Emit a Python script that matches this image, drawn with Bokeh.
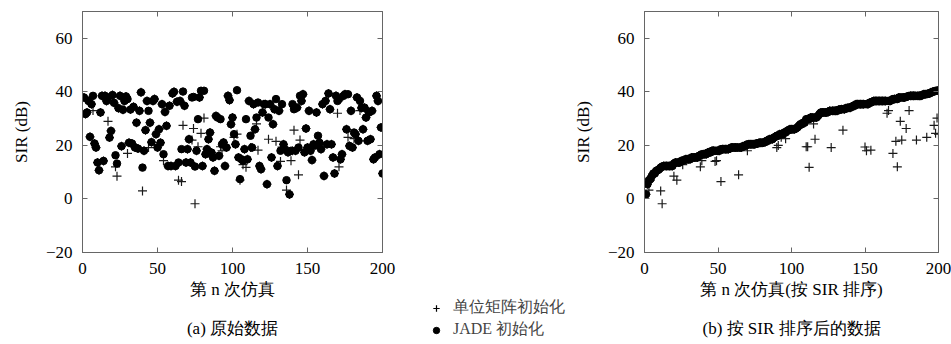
import numpy as np
from bokeh.plotting import figure
from bokeh.models import LinearAxis, Range1d, Title, Legend, LegendItem, FixedTicker, Spacer
from bokeh.layouts import row, column
from bokeh.embed import file_html
from bokeh.resources import INLINE

# ---------------- data ----------------
run_index = list(range(1, 201))

jade_sir = [
    37.9, 31.7, 32.3, 36.6, 23.2, 35.4, 38.5, 20.7, 19.2, 13.6,
    10.7, 32.3, 38.5, 14.2, 38.5, 36.6, 37.9, 22.9, 25.4, 38.8,
    35.9, 16.3, 13.2, 33.9, 38.5, 19.7, 33.3, 36.6, 38.3, 37.3,
    21.0, 33.4, 20.7, 34.4, 19.2, 28.5, 18.8, 32.9, 39.8, 11.7,
    18.0, 25.7, 36.6, 32.9, 28.5, 21.2, 36.6, 37.3, 24.2, 19.2,
    26.0, 21.0, 35.4, 16.7, 32.5, 27.3, 12.3, 34.8, 12.3, 39.4,
    40.0, 12.3, 36.3, 13.6, 36.6, 18.6, 40.1, 34.8, 13.6, 18.6,
    22.3, 13.6, 37.9, 38.1, 12.1, 18.0, 29.8, 37.9, 40.4, 12.3,
    40.4, 16.7, 18.6, 22.3, 24.8, 17.3, 15.5, 10.5, 31.0, 30.4,
    16.1, 29.8, 20.4, 21.1, 12.3, 19.2, 38.5, 36.9, 27.9, 30.4,
    24.2, 20.4, 40.6, 15.5, 7.4, 14.8, 14.3, 18.6, 29.8, 14.8,
    36.6, 23.6, 19.2, 35.4, 26.0, 30.4, 36.0, 12.3, 11.1, 32.3,
    35.4, 35.4, 5.5, 30.4, 35.4, 15.5, 27.9, 33.5, 37.3, 12.3,
    32.9, 18.0, 35.4, 20.4, 18.6, 7.0, 17.4, 1.7, 18.0, 35.4,
    33.5, 18.0, 34.1, 19.2, 38.5, 36.6, 39.1, 17.4, 26.3, 19.2,
    32.9, 18.0, 14.5, 20.4, 20.0, 32.3, 23.6, 21.0, 18.6, 35.4,
    8.6, 36.6, 20.4, 39.4, 33.5, 20.4, 15.5, 9.5, 38.5, 36.6,
    37.3, 14.8, 16.7, 38.5, 39.1, 26.0, 39.1, 19.8, 32.9, 19.2,
    24.8, 24.2, 37.9, 21.7, 36.6, 34.0, 26.0, 34.1, 30.4, 21.7,
    32.3, 22.3, 32.9, 14.8, 15.5, 38.5, 36.6, 16.7, 26.7, 9.5,
]

identity_sir = [
    37.9, 31.7, 32.3, 36.6, 23.2, 35.4, 33.0, 20.7, 19.2, 13.6,
    10.7, 32.3, 38.5, 14.2, 38.5, 36.6, 29.0, 22.9, 25.4, 38.8,
    35.9, 12.0, 8.5, 33.9, 38.5, 19.7, 33.3, 36.6, 38.3, 17.0,
    21.0, 33.4, 20.7, 34.4, 19.2, 28.5, 18.8, 32.9, 39.8, 3.0,
    18.0, 25.7, 36.6, 19.2, 28.5, 21.2, 36.6, 37.3, 24.2, 19.2,
    26.0, 21.0, 35.4, 14.3, 32.5, 27.3, 12.3, 34.8, 12.3, 39.4,
    40.0, 12.3, 36.3, 7.0, 36.6, 6.5, 27.5, 34.8, 13.6, 18.6,
    22.3, 13.6, 22.0, 26.3, -1.8, 18.0, 19.5, 37.9, 24.5, 12.3,
    30.2, 16.7, 18.6, 22.3, 24.8, 17.3, 15.5, 10.5, 31.0, 30.4,
    16.1, 19.5, 18.0, 21.1, 12.3, 19.2, 38.5, 36.9, 27.9, 30.4,
    23.0, 20.4, 24.2, 15.5, 7.0, 14.8, 12.8, 18.6, 11.8, 14.8,
    36.6, 19.2, 19.2, 35.4, 26.0, 28.0, 18.2, 12.3, 11.1, 32.3,
    35.4, 35.4, 5.5, 22.3, 35.4, 15.5, 27.9, 33.5, 21.5, 12.3,
    32.9, 14.0, 19.4, 20.4, 18.6, 3.3, 17.4, 1.7, 14.3, 18.0,
    25.7, 18.0, 34.1, 9.0, 22.0, 36.6, 39.1, 17.4, 26.3, 19.2,
    32.9, 18.0, 14.5, 20.4, 20.0, 32.3, 20.0, 21.0, 18.6, 35.4,
    8.6, 36.6, 20.4, 39.4, 33.5, 20.4, 15.5, 9.5, 38.5, 32.0,
    12.0, 14.8, 16.7, 38.5, 39.1, 26.0, 23.0, 19.8, 32.9, 19.2,
    22.5, 24.2, 37.9, 21.7, 33.0, 34.0, 26.0, 34.1, 30.4, 21.7,
    32.3, 22.3, 32.9, 14.8, 15.5, 38.5, 36.6, 16.7, 26.7, 9.5,
]

x_ticks = [0, 50, 100, 150, 200]
y_ticks = [-20, 0, 20, 40, 60]
y_tick_text = {-20: "\u221220", 0: "0", 20: "20", 40: "40", 60: "60"}

label_plus = "单位矩阵初始化"
label_dot = "JADE 初始化"
xlabel_a = "第 n 次仿真"
xlabel_b = "第 n 次仿真(按 SIR 排序)"
caption_a = "(a) 原始数据"
caption_b = "(b) 按 SIR 排序后的数据"

# sorted view (b): order runs by the JADE SIR
order = np.argsort(np.array(jade_sir), kind="stable")
jade_sorted = list(np.array(jade_sir)[order])
identity_sorted = list(np.array(identity_sir)[order])

SERIF = "Liberation Serif"
FRAME = "#666666"
H = 344


def style(ax, ticks, labels, overrides=None):
    ax.ticker = FixedTicker(ticks=ticks)
    ax.major_tick_in = 5
    ax.major_tick_out = 0
    ax.minor_tick_line_color = None
    ax.axis_line_color = FRAME
    ax.major_tick_line_color = FRAME
    if labels:
        ax.major_label_text_font = SERIF
        ax.major_label_text_font_size = "17px"
        ax.major_label_text_color = "black"
        ax.major_label_standoff = 10
        ax.axis_label_text_font = SERIF
        ax.axis_label_text_font_size = "17px"
        ax.axis_label_text_font_style = "normal"
        ax.axis_label_text_color = "black"
        if overrides:
            ax.major_label_overrides = overrides
    else:
        ax.major_label_text_font_size = "2px"
        ax.major_label_text_alpha = 0
        ax.major_label_standoff = 0


def panel(xs, plus_vals, dot_vals, xlabel, caption, width, bl, br):
    p = figure(width=width, height=H, x_range=Range1d(0, 200), y_range=Range1d(-20, 70),
               output_backend="svg", toolbar_location=None,
               min_border_left=bl, min_border_right=br, min_border_top=11,
               min_border_bottom=H - 252)
    p.grid.visible = False
    p.outline_line_color = FRAME
    p.scatter(xs, plus_vals, marker="cross", size=9, line_color="#1a1a1a", line_width=1.2)
    p.scatter(xs, dot_vals, marker="circle", size=7.5, fill_color="black", line_color="black")
    p.xaxis.axis_label = xlabel
    p.yaxis.axis_label = "SIR (dB)"
    style(p.xaxis[0], x_ticks, True)
    style(p.yaxis[0], y_ticks, True, y_tick_text)
    p.xaxis[0].axis_label_standoff = 3
    p.yaxis[0].axis_label_standoff = 12
    top = LinearAxis()
    style(top, x_ticks, False)
    p.add_layout(top, "above")
    right = LinearAxis()
    style(right, y_ticks, False)
    p.add_layout(right, "right")
    cap = Title(text=caption, align="center", text_font=SERIF, text_font_size="17px",
                text_font_style="normal", text_color="black", standoff=11,
                padding=dict(top=10, bottom=0, left=0, right=0))
    p.add_layout(cap, "below")
    return p


left = panel(run_index, identity_sir, jade_sir, xlabel_a, caption_a, 398, 82, 16)
right = panel(run_index, identity_sorted, jade_sorted, xlabel_b, caption_b, 381, 68, 13)

# legend panel between the two plots
leg = figure(width=172, height=44, x_range=Range1d(0, 1), y_range=Range1d(0, 1),
             output_backend="svg", toolbar_location=None, min_border=0)
leg.axis.visible = False
leg.grid.visible = False
leg.outline_line_color = None
# legend samples kept outside the visible range of this blank panel
r1 = leg.scatter(x=[-5], y=[-5], marker="cross", size=9, line_color="black", line_width=1.2)
r2 = leg.scatter(x=[-5], y=[-5], marker="circle", size=7.5, fill_color="black", line_color="black")
legend = Legend(items=[LegendItem(label=label_plus, renderers=[r1]),
                       LegendItem(label=label_dot, renderers=[r2])],
                location=(30, 1), glyph_width=16, glyph_height=16, label_height=16,
                label_standoff=9, spacing=1, padding=0, margin=0,
                label_text_font=SERIF, label_text_font_size="16px",
                border_line_alpha=0, background_fill_alpha=0)
leg.add_layout(legend)

mid = column(Spacer(width=172, height=H - 47), leg)

layout = row(left, mid, right)
open("out.html", "w").write(file_html(layout, INLINE))
